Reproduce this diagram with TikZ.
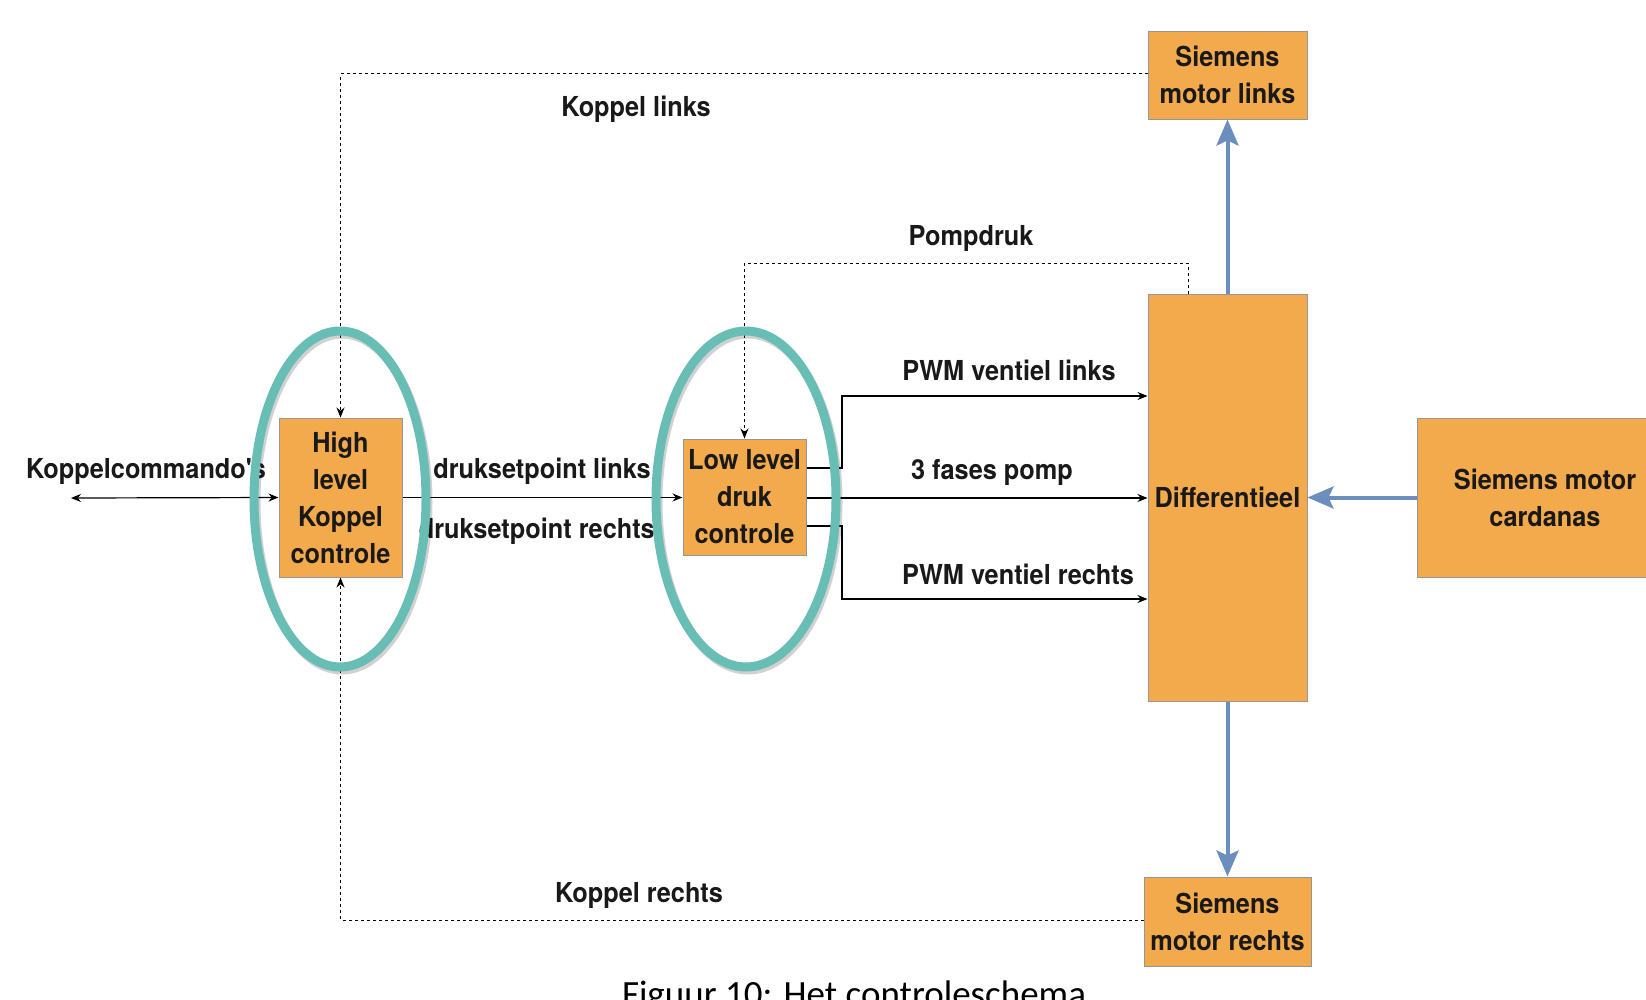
\documentclass[tikz,border=0pt]{standalone}
\usepackage{fontspec}
\setmainfont{TeX Gyre Heros}[FakeStretch=0.92, Ligatures=TeXOff]
\newfontfamily\capfont{Carlito}
\usetikzlibrary{arrows.meta,shapes.geometric,shadows}
\definecolor{boxfill}{RGB}{243,170,77}
\definecolor{boxdraw}{RGB}{150,150,150}
\definecolor{ringcol}{RGB}{104,190,180}
\definecolor{bluearrow}{RGB}{108,142,191}
\begin{document}
\begin{tikzpicture}[x=1pt,y=-1pt,
  box/.style={draw=boxdraw, fill=boxfill, line width=1pt, inner sep=0pt, align=center,
    font=\bfseries\fontsize{27.5}{37}\selectfont, text=black!90},
  lbl/.style={font=\bfseries\fontsize{27.5}{30}\selectfont, inner sep=0pt, text=black!90},
  conn/.style={line width=1.2pt, -{Stealth[length=10pt,width=8pt]}},
  dconn/.style={line width=1pt, dash pattern=on 3pt off 3pt, -{Stealth[length=10pt,width=8pt]}},
  ring/.style={draw=ringcol, line width=9pt, ellipse, inner sep=0pt,
    drop shadow={opacity=0.18, shadow xshift=2pt, shadow yshift=-3pt, fill=none, draw=black, line width=9pt}},
  big/.style={draw=bluearrow, line width=4pt, -{Stealth[length=26pt,width=22pt,inset=5pt]}}
]
\useasboundingbox (0,0) rectangle (1646,999);
\clip (0,0) rectangle (1646,999);
\fill[white] (0,0) rectangle (1646,999);

% boxes
\node[box, minimum width=123pt, minimum height=159pt] (hl) at (340.5,497.5) {High\\level\\Koppel\\controle};
\node[box, minimum width=123pt, minimum height=116pt] (ll) at (744.5,497) {Low level\\druk\\controle};
\node[box, minimum width=159pt, minimum height=407pt] (diff) at (1227.5,497.5) {Differentieel};
\node[box, minimum width=159pt, minimum height=88pt] (sml) at (1227.5,75) {Siemens\\motor links};
\node[box, minimum width=167pt, minimum height=89pt] (smr) at (1227.5,921.5) {Siemens\\motor rechts};
\node[box, minimum width=256pt, minimum height=159pt] (card) at (1545,497.5) {Siemens motor\\cardanas};

% labels
\node[lbl] (tkl) at (636,109) {Koppel links};
\node[lbl] (tpd) at (971,238) {Pompdruk};
\node[lbl] (tpl) at (1009,370) {PWM ventiel links};
\node[lbl] (tfp) at (992,472) {3 fases pomp};
\node[lbl] (tpr) at (1018,574) {PWM ventiel rechts};
\node[lbl] (tkr) at (639,895) {Koppel rechts};
\node[lbl] (tkc) at (146,471) {Koppelcommando's};
\node[lbl] (tdl) at (542,471) {druksetpoint links};
\node[lbl, anchor=east] (tdr) at (655,531) {druksetpoint rechts};

% connectors
\coordinate (kc) at (71,498);
\draw[line width=1.2pt, {Stealth[length=10pt,width=8pt]}-{Stealth[length=10pt,width=8pt]}] (kc) -- (hl.west);
\draw[conn] (hl.east) -- (hl.east -| ll.west);
\draw[conn] (ll.east |- 0,468) -- (842,468) -- (842,396) -- (diff.west |- 0,396);
\draw[conn] (ll.east |- 0,498) -- (diff.west |- 0,498);
\draw[conn] (ll.east |- 0,526) -- (842,526) -- (842,599) -- (diff.west |- 0,599);

\draw[dconn] (sml.west |- 0,73.5) -- (340.5,73.5) -- (hl.north);
\draw[dconn] (smr.west |- 0,920) -- (340.5,920) -- (hl.south);
\draw[dconn] (diff.north -| 1188,0) -- (1188,263) -- (744.5,263) -- (ll.north);

\draw[big] (diff.north) -- (sml.south);
\draw[big] (diff.south) -- (smr.north);
\draw[big] (card.west) -- (diff.east);

% rings
\node[ring, minimum width=172pt, minimum height=336pt] (e1) at (340,499) {};
\node[ring, minimum width=180pt, minimum height=336pt] (e2) at (746,499) {};

% caption
\node[font=\capfont\fontsize{37}{40}\selectfont, anchor=base, inner sep=0pt] (cap) at (854,1006) {Figuur 10: Het controleschema};
\end{tikzpicture}
\end{document}
